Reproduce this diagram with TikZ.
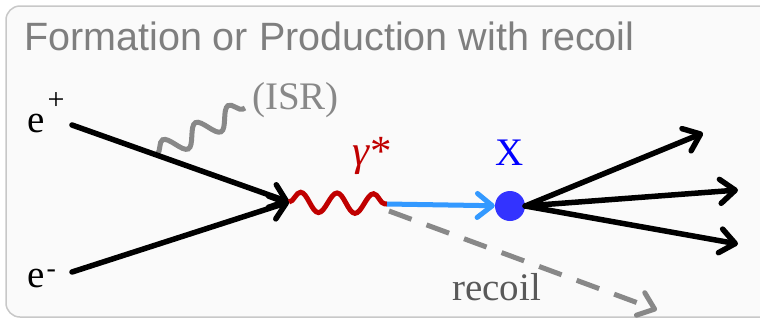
\documentclass[tikz,border=0pt]{standalone}
\usepackage{fontspec}
\setmainfont{Liberation Serif}
\newfontfamily\titlefont{Liberation Sans}
\usepackage{graphicx}
\usetikzlibrary{arrows.meta,decorations.pathmorphing}
\definecolor{framegray}{HTML}{C8C8C8}
\definecolor{framefill}{HTML}{FAFAFA}
\definecolor{titlegray}{HTML}{7F7F7F}
\definecolor{isrgray}{HTML}{888888}
\definecolor{recoilgray}{HTML}{595959}
\definecolor{photonred}{HTML}{C00000}
\definecolor{xblue}{HTML}{0000FF}
\definecolor{dotblue}{HTML}{3333FF}
\definecolor{lightblue}{HTML}{3399FF}
\begin{document}
\begin{tikzpicture}[x=1pt,y=-1pt,
  lbl/.style={anchor=base west, inner sep=0pt, font=\fontsize{39}{46}\selectfont},
  openarrow/.style={-{Straight Barb[length=15pt,width=24pt,round]}},
  fermion/.style={black, line width=5.5pt, line cap=round, openarrow},
  wave/.style={line width=5pt, decorate, decoration={snake, amplitude=#1}},
]
\useasboundingbox (0,0) rectangle (760,322);
\fill[white] (0,0) rectangle (760,322);
\draw[framegray, line width=1.5pt, fill=framefill, rounded corners=14pt] (6,6) rectangle (776,317);

% title
\node[anchor=base west, inner sep=0pt, text=titlegray] (title) at (24,50)
  {\titlefont\fontsize{39.5}{46}\selectfont Formation or Production with recoil};

% labels
\node[lbl] (eplus) at (27,132) {e\kern3pt\raisebox{23pt}{\fontsize{30}{34}\selectfont +}};
\node[lbl] (eminus) at (27,287) {e\kern2pt\raisebox{10pt}{\fontsize{28}{32}\selectfont -}};
\node[lbl, text=isrgray] (isr) at (252,109) {(ISR)};
\node[lbl, text=photonred, font=\fontsize{43}{50}\selectfont] (gam) at (352,165) {\textit{γ}*};
\node[lbl, text=xblue, anchor=base] (xlbl) at (510,165) {X};
\node[lbl, text=recoilgray] (rec) at (452,300) {recoil};

% points
\coordinate (ep) at (72,125);
\coordinate (em) at (72,272);
\coordinate (v) at (289,202);
\coordinate (g2) at (387,204);
\coordinate (r0) at (389,211);
\coordinate (r1) at (657,310);
\coordinate (i0) at (157,154);
\coordinate (i1) at (245,108);
\coordinate (o1) at (703,133);
\coordinate (o2) at (738,190);
\coordinate (o3) at (738,244);

\node[circle, fill=dotblue, minimum size=30pt, inner sep=0pt] (xdot) at (510,206) {};

% lines
\draw[isrgray, wave=10pt, decoration={segment length=37pt}] (i0) -- (i1);
\draw[fermion] (ep) -- (v);
\draw[fermion] (em) -- (v);
\draw[photonred, wave=10pt, decoration={segment length=36.5pt}] (v) -- (g2);
\draw[isrgray, line width=5pt, dash pattern=on 24pt off 16pt, openarrow] (r0) -- (r1);
\draw[lightblue, line width=5pt, openarrow] (g2) -- (xdot);
\draw[fermion] (xdot.east) -- (o1);
\draw[fermion] (xdot.east) -- (o2);
\draw[fermion] (xdot.east) -- (o3);
\end{tikzpicture}
\end{document}
